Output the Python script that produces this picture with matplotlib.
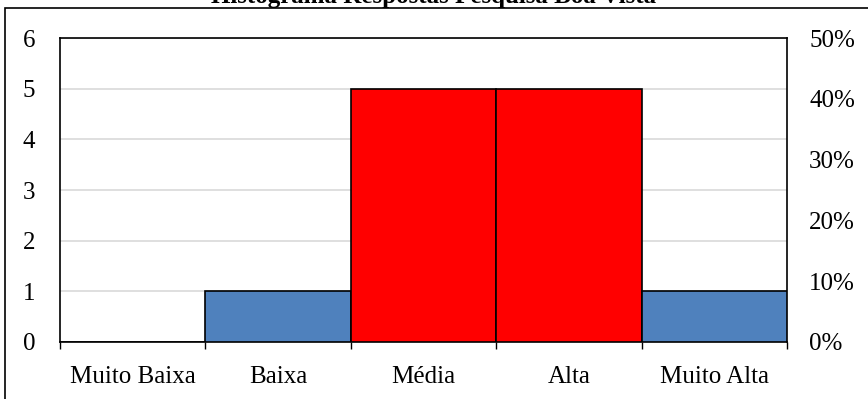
import matplotlib.pyplot as plt
from matplotlib.patches import Rectangle
import numpy as np

categories = ["Muito Baixa", "Baixa", "Média", "Alta", "Muito Alta"]
counts = [0, 1, 5, 5, 1]
bar_colors = ["#4F81BD", "#4F81BD", "#FF0000", "#FF0000", "#4F81BD"]
title = "Histograma Respostas Pesquisa Boa Vista"

plt.rcParams["font.family"] = ["Liberation Serif", "DejaVu Serif"]
plt.rcParams["font.size"] = 18

fig = plt.figure(figsize=(8.68, 3.99), dpi=100)
ax = fig.add_axes([60 / 868, 57 / 399, 727 / 868, 304 / 399])

x = np.arange(len(categories))
ax.bar(x, counts, width=1.0, color=bar_colors, edgecolor="black", linewidth=1.2, zorder=3)

ax.set_xlim(-0.5, len(categories) - 0.5)
ax.set_ylim(0, 6)
ax.set_yticks(range(0, 7))
ax.yaxis.grid(True, color="#D9D9D9", linewidth=1.2, zorder=0)
ax.tick_params(axis="y", length=0, pad=18)
ax.set_xticks(x)
ax.set_xticklabels(categories)
ax.set_xticks(np.arange(-0.5, len(categories)), minor=True)
ax.tick_params(axis="x", which="major", length=0, pad=17)
ax.tick_params(axis="x", which="minor", length=5, width=1, color="black")
for s in ax.spines.values():
    s.set_linewidth(1.2)
    s.set_color("black")

ax2 = ax.twinx()
ax2.set_ylim(0, 0.5)
ax2.set_yticks(np.arange(0, 0.51, 0.1))
ax2.set_yticklabels([f"{int(round(v * 100))}%" for v in np.arange(0, 0.51, 0.1)])
ax2.tick_params(axis="y", length=0, pad=16)
for s in ax2.spines.values():
    s.set_visible(False)

# outer chart border
fig.patches.append(Rectangle((5 / 868, -0.01), 1.0, 1 - 8 / 399 + 0.01,
                             transform=fig.transFigure, fill=False,
                             edgecolor="black", linewidth=1.2))
fig.text(0.5, 1 - 3 / 399, title, ha="center", va="baseline",
         fontsize=18, fontweight="bold")

fig.savefig("out.png", dpi=100)
